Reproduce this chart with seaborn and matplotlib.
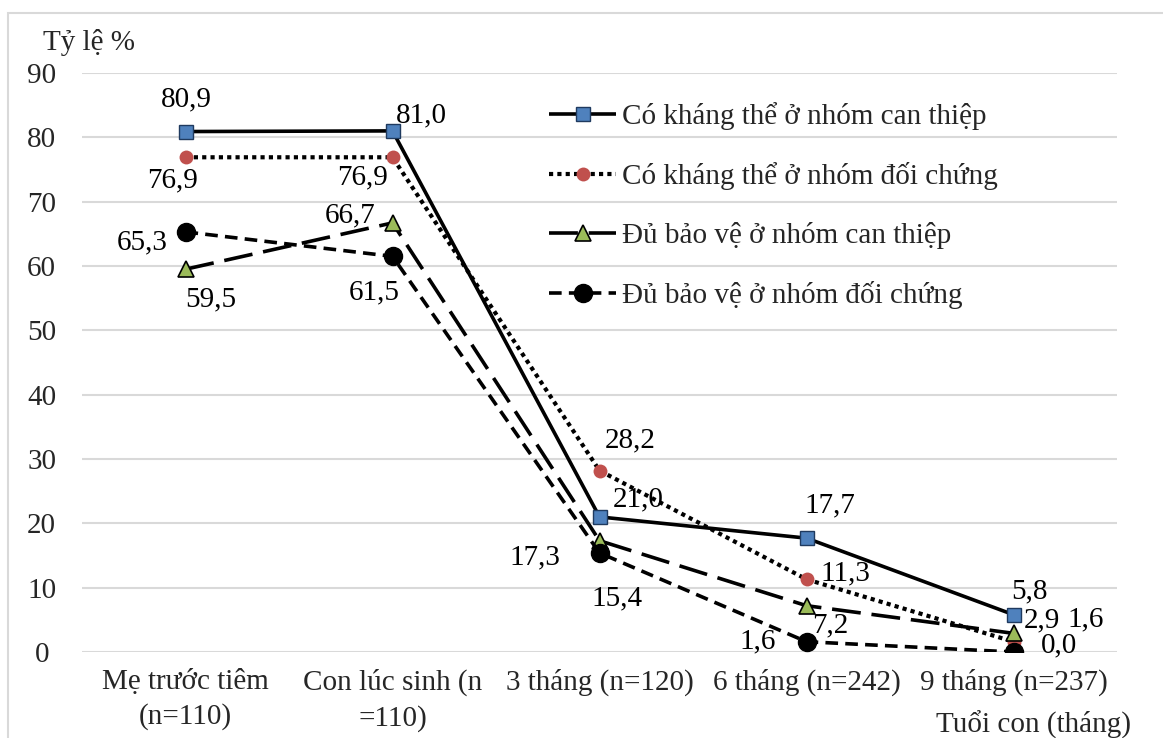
import numpy as np
import pandas as pd
import matplotlib
matplotlib.use("Agg")
import matplotlib.pyplot as plt
from matplotlib.patches import Rectangle
import seaborn as sns

# ---- data ----
categories = ["Mẹ trước tiêm\n(n=110)", "Con lúc sinh (n\n=110)", "3 tháng (n=120)",
              "6 tháng (n=242)", "9 tháng (n=237)"]
series_names = ["Có kháng thể ở nhóm can thiệp", "Có kháng thể ở nhóm đối chứng",
                "Đủ bảo vệ ở nhóm can thiệp", "Đủ bảo vệ ở nhóm đối chứng"]
ab_intervention = [80.9, 81.0, 21.0, 17.7, 5.8]
ab_control = [76.9, 76.9, 28.2, 11.3, 1.6]
protect_intervention = [59.5, 66.7, 17.3, 7.2, 2.9]
protect_control = [65.3, 61.5, 15.4, 1.6, 0.0]
yticks = [0, 10, 20, 30, 40, 50, 60, 70, 80, 90]

values = [ab_intervention, ab_control, protect_intervention, protect_control]

# ---- style ----
sns.set_theme(style="white")
plt.rcParams["font.family"] = ["Liberation Serif", "DejaVu Serif"]
FS = 21

W, H = 1163, 738
fig = plt.figure(figsize=(W / 100, H / 100), dpi=100)
ax = fig.add_axes([82 / W, 1 - 652 / H, (1117 - 82) / W, (652 - 73) / H])

styles = [
    dict(linewidth=2.6, linestyle="-", marker="s", markersize=9.5, markerfacecolor="#4F81BD",
         markeredgecolor="#1F3A5F", markeredgewidth=1.0),
    dict(linewidth=3.0, linestyle=(0, (1.0, 1.0)), marker="o", markersize=10,
         markerfacecolor="#C0504D", markeredgecolor="#C0504D", markeredgewidth=0),
    dict(linewidth=2.6, linestyle=(0, (8, 3)), marker="^", markersize=12,
         markerfacecolor="#9BBB59", markeredgecolor="black", markeredgewidth=1.2),
    dict(linewidth=2.6, linestyle=(0, (3.5, 2)), marker="o", markersize=13,
         markerfacecolor="black", markeredgecolor="black", markeredgewidth=1.0),
]

x = np.arange(len(categories))
for name, vals, st in zip(series_names, values, styles):
    df = pd.DataFrame({"x": x, "y": vals})
    sns.lineplot(data=df, x="x", y="y", ax=ax, color="black",
                 dash_capstyle="butt", solid_capstyle="butt", label=name, **st)

# value labels: offsets in pixels (dx, dy) from each point
label_offsets = [
    [(1, 32), (29, 16), (39, 18), (23, 33), (16, 23)],
    [(-13, -23), (-30, -20), (31, 30), (39, 6), (72, 22)],
    [(25, -30), (-42, 8), (-65, -17), (24, -20), (28, 13)],
    [(-43, -10), (-18, -36), (17, -45), (-49, 0), (46, 7)],
]
for vals, offs in zip(values, label_offsets):
    for xi, (v, (dx, dy)) in enumerate(zip(vals, offs)):
        ax.annotate(f"{v:.1f}".replace(".", ","), (xi, v), xytext=(dx * 0.72, dy * 0.72),
                    textcoords="offset points", ha="center", va="center",
                    fontsize=FS, color="black", zorder=10)

ax.set_xlim(-0.5, len(categories) - 0.5)
ax.set_ylim(0, 90)
ax.set_yticks(yticks)
ax.set_yticklabels([str(t) for t in yticks])
ax.set_xticks(x)
ax.set_xticklabels(categories, linespacing=1.42)
ax.set_xlabel("")
ax.set_ylabel("")
ax.grid(axis="y", color="#D9D9D9", linewidth=1.5)
ax.grid(axis="x", visible=False)
ax.set_axisbelow(True)
for s in ax.spines.values():
    s.set_visible(False)
ax.tick_params(axis="y", length=0, pad=29, labelsize=FS)
ax.tick_params(axis="x", length=0, pad=12, labelsize=FS)
for lbl in ax.get_yticklabels():
    lbl.set_ha("center")

leg = ax.legend(loc="upper left", bbox_to_anchor=(549 / W, 1 - 102 / H),
                bbox_transform=fig.transFigure, frameon=False, fontsize=FS,
                handlelength=2.3, handletextpad=0.2, labelspacing=1.1,
                borderpad=0, borderaxespad=0, numpoints=1)

fig.text(89 / W, 1 - 43 / H, "Tỷ lệ %", ha="center", va="center", fontsize=FS)
fig.text(1034 / W, 1 - 725 / H, "Tuổi con (tháng)", ha="center", va="center", fontsize=FS)

fig.patches.append(Rectangle((8 / W, -0.1), 1.2, 1.1 - 13 / H, transform=fig.transFigure,
                             fill=False, edgecolor="#D9D9D9", linewidth=1.5))

fig.savefig("out.png", dpi=100, facecolor="white")
